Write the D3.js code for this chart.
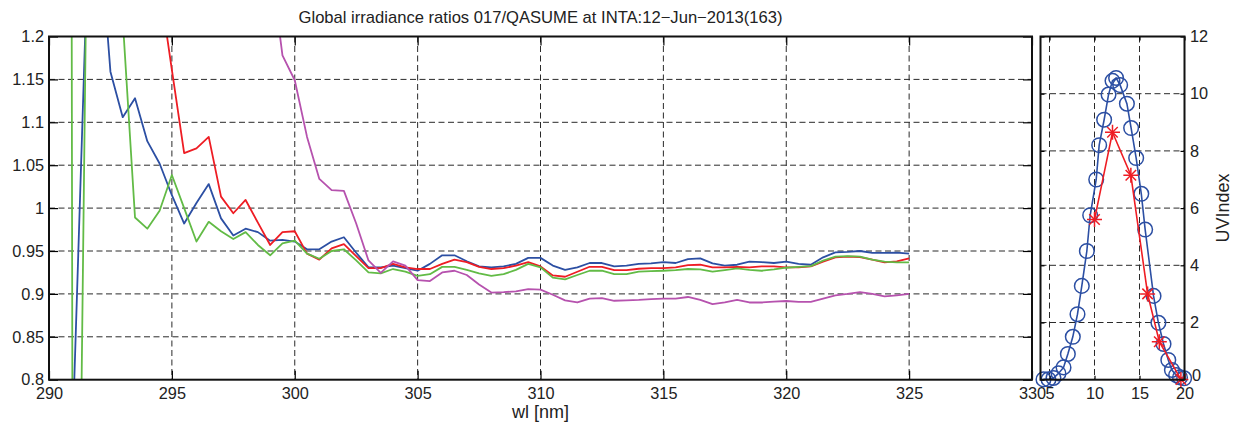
<!DOCTYPE html>
<html><head><meta charset="utf-8">
<script src="https://cdn.jsdelivr.net/npm/d3@7"></script>
<style>
body{margin:0;background:#fff}
text{font-family:"Liberation Sans",Arial,Helvetica,sans-serif;fill:#222}
</style>
</head><body>
<svg id="c" width="1248" height="434"></svg>
<script>
// ---------------- DATA ----------------
const wl = [290,290.5,291,291.5,292,292.5,293,293.5,294,294.5,295,295.5,296,296.5,297,297.5,298,298.5,299,299.5,
300,300.5,301,301.5,302,302.5,303,303.5,304,304.5,305,305.5,306,306.5,307,307.5,308,308.5,309,309.5,
310,310.5,311,311.5,312,312.5,313,313.5,314,314.5,315,315.5,316,316.5,317,317.5,318,318.5,319,319.5,
320,320.5,321,321.5,322,322.5,323,323.5,324,324.5,325];

const ratioBlue = [0.55,0.65,0.773,1.227,1.345,1.159,1.106,1.128,1.078,1.052,1.015,0.982,1.006,1.028,0.988,0.968,0.976,0.972,0.962,0.963,
0.961,0.952,0.952,0.961,0.966,0.948,0.931,0.931,0.933,0.930,0.927,0.935,0.945,0.945,0.938,0.932,0.931,0.932,0.935,0.942,
0.942,0.933,0.928,0.931,0.936,0.936,0.932,0.933,0.935,0.9355,0.937,0.936,0.9406,0.9414,0.9355,0.933,0.934,0.9375,0.937,0.936,
0.9375,0.935,0.934,0.9426,0.9484,0.949,0.950,0.9477,0.9477,0.948,0.947];

const ratioRed = [2.2,2.1,2.0,1.9,1.8,1.7,1.6,1.5,1.4,1.26,1.161,1.064,1.0696,1.083,1.0134,0.994,1.0095,0.983,0.957,0.972,
0.973,0.947,0.940,0.953,0.958,0.944,0.930,0.930,0.935,0.931,0.929,0.929,0.935,0.940,0.937,0.9316,0.929,0.930,0.933,0.937,
0.932,0.9215,0.920,0.9258,0.9316,0.9316,0.9277,0.9277,0.9293,0.930,0.930,0.9308,0.9336,0.934,0.931,0.9308,0.9316,0.931,0.932,0.932,
0.931,0.931,0.932,0.9375,0.9426,0.9434,0.943,0.940,0.9367,0.938,0.9414];

const ratioGreen = [5.0,8.0,0.0,1.22,1.4,1.3,1.22,0.989,0.976,0.997,1.0386,1.000,0.961,0.984,0.973,0.964,0.972,0.957,0.945,0.959,
0.962,0.947,0.941,0.950,0.952,0.939,0.925,0.924,0.929,0.926,0.921,0.923,0.9315,0.9315,0.928,0.924,0.921,0.923,0.928,0.935,
0.931,0.919,0.917,0.922,0.927,0.927,0.923,0.923,0.926,0.9265,0.927,0.9277,0.929,0.9285,0.926,0.9277,0.9297,0.928,0.927,0.9285,
0.9305,0.9316,0.9324,0.9387,0.9434,0.944,0.9434,0.940,0.9375,0.9367,0.9367];

const ratioMagenta = [3.0,2.9,2.8,2.7,2.6,2.5,2.4,2.3,2.2,2.1,2.0,1.9,1.8,1.7,1.6,1.5,1.45,1.38,1.29,1.178,
1.149,1.083,1.034,1.021,1.020,0.982,0.939,0.9245,0.938,0.933,0.916,0.915,0.925,0.927,0.922,0.911,0.9016,0.902,0.903,0.9055,
0.905,0.899,0.8925,0.890,0.8945,0.895,0.892,0.8925,0.893,0.894,0.8945,0.8945,0.8964,0.893,0.888,0.890,0.893,0.890,0.890,0.891,
0.8917,0.8906,0.8906,0.8945,0.8984,0.900,0.902,0.900,0.897,0.8984,0.900];

const uvTimeBlue = [4.33,4.89,5.44,6.0,6.56,7.04,7.59,8.11,8.59,9.15,9.52,10.19,10.52,11.07,11.56,12.0,12.4,12.85,13.6,14.07,14.63,15.2,15.63,16.56,17.1,17.67,18.2,18.6,19.07,19.5,19.96];
const uvBlue     = [0.01,0.01,0.06,0.22,0.43,0.90,1.50,2.29,3.28,4.50,5.75,7.00,8.20,9.09,9.97,10.45,10.55,10.3,9.65,8.8,7.75,6.5,5.25,2.93,1.99,1.25,0.69,0.34,0.16,0.08,0.05];
const uvTimeRed = [10.0,12.0,14.04,15.9,17.2,19.6];
const uvRed     = [5.6,8.65,7.15,3.0,1.33,0.01];

const xTicksMain = [290,295,300,305,310,315,320,325,330];
const yTicksMain = [0.8,0.85,0.9,0.95,1,1.05,1.1,1.15,1.2];
const yTickLabelsMain = ["0.8","0.85","0.9","0.95","1","1.05","1.1","1.15","1.2"];
const xTicksUV = [5,10,15,20];
const yTicksUV = [0,2,4,6,8,10,12];

const titleText = "Global irradiance ratios 017/QASUME at INTA:12\u2212Jun\u22122013(163)";
const xLabelText = "wl [nm]";
const yLabelUV = "UVIndex";

// ---------------- DRAW ----------------
const svg = d3.select("#c");
const FS = 16.3, FT = 16.6, FL = 18;
const C = {blue:"#2c4fa3", red:"#ee1d24", green:"#62bb46", magenta:"#b652ae"};

const M = {l:49, r:1032, t:36.5, b:379.7};
const U = {l:1040.5, r:1184.5, t:36.5, b:379.7};

const x = d3.scaleLinear([290,330],[M.l,M.r]);
const y = d3.scaleLinear([0.8,1.2],[M.b,M.t]);
const xu = d3.scaleLinear([4,20],[U.l,U.r]);
const yu = d3.scaleLinear([0,12],[U.b,U.t]);

const defs = svg.append("defs");
defs.append("clipPath").attr("id","clipM").append("rect")
  .attr("x",M.l).attr("y",M.t).attr("width",M.r-M.l).attr("height",M.b-M.t);
defs.append("clipPath").attr("id","clipU").append("rect")
  .attr("x",U.l-10).attr("y",U.t-10).attr("width",U.r-U.l+20).attr("height",U.b-U.t+20);

const GRID = {stroke:"#2a2a2a", dash:"6,3.5"};
const gm = svg.append("g");
gm.append("g").selectAll("line").data(xTicksMain.filter(d=>d>290&&d<330)).join("line")
  .attr("x1",d=>x(d)).attr("x2",d=>x(d)).attr("y1",M.t).attr("y2",M.b);
gm.append("g").selectAll("line").data(yTicksMain.filter(d=>d>0.8&&d<1.2)).join("line")
  .attr("y1",d=>y(d)).attr("y2",d=>y(d)).attr("x1",M.l).attr("x2",M.r);
gm.selectAll("line").attr("stroke",GRID.stroke).attr("stroke-width",1).attr("stroke-dasharray",GRID.dash);

const gu = svg.append("g");
gu.append("g").selectAll("line").data(xTicksUV.filter(d=>d<20)).join("line")
  .attr("x1",d=>xu(d)).attr("x2",d=>xu(d)).attr("y1",U.t).attr("y2",U.b);
gu.append("g").selectAll("line").data(yTicksUV.filter(d=>d>0&&d<12)).join("line")
  .attr("y1",d=>yu(d)).attr("y2",d=>yu(d)).attr("x1",U.l).attr("x2",U.r);
gu.selectAll("line").attr("stroke",GRID.stroke).attr("stroke-width",1).attr("stroke-dasharray",GRID.dash);

const series = [
  {v:ratioBlue, c:C.blue},
  {v:ratioRed, c:C.red},
  {v:ratioGreen, c:C.green},
  {v:ratioMagenta, c:C.magenta}
];
const line = d3.line().x(d=>x(d[0])).y(d=>y(d[1]));
const gl = svg.append("g").attr("clip-path","url(#clipM)");
series.forEach(s=>{
  gl.append("path").attr("d", line(wl.map((w,i)=>[w,s.v[i]])))
    .attr("fill","none").attr("stroke",s.c).attr("stroke-width",1.8).attr("stroke-linejoin","round");
});

const lu = d3.line().x(d=>xu(d[0])).y(d=>yu(d[1]));
const gU = svg.append("g").attr("clip-path","url(#clipU)");
const bluePts = uvTimeBlue.map((t,i)=>[t,uvBlue[i]]);
const redPts = uvTimeRed.map((t,i)=>[t,uvRed[i]]);
gU.append("path").attr("d",lu(bluePts)).attr("fill","none").attr("stroke",C.blue).attr("stroke-width",1.6);
gU.selectAll(".circ").data(bluePts).join("circle")
  .attr("cx",d=>xu(d[0])).attr("cy",d=>yu(d[1])).attr("r",7.3)
  .attr("fill","none").attr("stroke",C.blue).attr("stroke-width",1.5);
gU.append("path").attr("d",lu(redPts)).attr("fill","none").attr("stroke",C.red).attr("stroke-width",1.6);
const ast = gU.selectAll(".ast").data(redPts).join("g")
  .attr("transform",d=>`translate(${xu(d[0])},${yu(d[1])})`);
const R = 7.5;
[[-R,0,R,0],[0,-R,0,R],[-R*0.7,-R*0.7,R*0.7,R*0.7],[-R*0.7,R*0.7,R*0.7,-R*0.7]].forEach(s=>{
  ast.append("line").attr("x1",s[0]).attr("y1",s[1]).attr("x2",s[2]).attr("y2",s[3])
    .attr("stroke",C.red).attr("stroke-width",1.5);
});

function styleAxis(g){
  g.select(".domain").remove();
  g.selectAll(".tick line").attr("stroke","#000").attr("stroke-width",1.2);
  g.selectAll(".tick text").attr("font-size",FS).attr("fill","#222")
    .attr("font-family",'"Liberation Sans",Arial,sans-serif');
}
const TK = 9;
svg.append("g").attr("transform",`translate(0,${M.b})`)
  .call(d3.axisBottom(x).tickValues(xTicksMain).tickFormat(d3.format("d")).tickSizeInner(-TK).tickSizeOuter(0).tickPadding(7.5))
  .call(styleAxis);
svg.append("g").attr("transform",`translate(0,${M.t})`)
  .call(d3.axisTop(x).tickValues(xTicksMain).tickFormat("").tickSizeInner(-TK).tickSizeOuter(0))
  .call(styleAxis);
svg.append("g").attr("transform",`translate(${M.l},0)`)
  .call(d3.axisLeft(y).tickValues(yTicksMain).tickFormat((d,i)=>yTickLabelsMain[i]).tickSizeInner(-TK).tickSizeOuter(0).tickPadding(5))
  .call(styleAxis);
svg.append("g").attr("transform",`translate(${M.r},0)`)
  .call(d3.axisRight(y).tickValues(yTicksMain).tickFormat("").tickSizeInner(-TK).tickSizeOuter(0))
  .call(styleAxis);

const TU = 4;
svg.append("g").attr("transform",`translate(0,${U.b})`)
  .call(d3.axisBottom(xu).tickValues(xTicksUV).tickFormat(d3.format("d")).tickSizeInner(-TU).tickSizeOuter(0).tickPadding(7.5))
  .call(styleAxis);
svg.append("g").attr("transform",`translate(0,${U.t})`)
  .call(d3.axisTop(xu).tickValues(xTicksUV).tickFormat("").tickSizeInner(-TU).tickSizeOuter(0))
  .call(styleAxis);
const ayu = svg.append("g").attr("transform",`translate(${U.r},0)`)
  .call(d3.axisRight(yu).tickValues(yTicksUV).tickFormat(d3.format("d")).tickSizeInner(-TU).tickSizeOuter(0).tickPadding(5.5))
  .call(styleAxis);
// nudge the bottom "0" label slightly up and right so it does not collide with "20"
ayu.selectAll(".tick text").filter(d=>d===0).attr("dy","0.05em").attr("dx","2");
svg.append("g").attr("transform",`translate(${U.l},0)`)
  .call(d3.axisLeft(yu).tickValues(yTicksUV).tickFormat("").tickSizeInner(-TU).tickSizeOuter(0))
  .call(styleAxis);

[M,U].forEach(b=>{
  svg.append("rect").attr("x",b.l).attr("y",b.t).attr("width",b.r-b.l).attr("height",b.b-b.t)
    .attr("fill","none").attr("stroke","#111").attr("stroke-width",2);
});

svg.append("text").attr("x",(M.l+M.r)/2).attr("y",23).attr("text-anchor","middle")
  .attr("font-size",FT).text(titleText);
svg.append("text").attr("x",(M.l+M.r)/2).attr("y",418).attr("text-anchor","middle")
  .attr("font-size",FL).text(xLabelText);
svg.append("text").attr("transform",`translate(1229,${(U.t+U.b)/2}) rotate(-90)`).attr("text-anchor","middle")
  .attr("font-size",FL).text(yLabelUV);
</script>
</body></html>
